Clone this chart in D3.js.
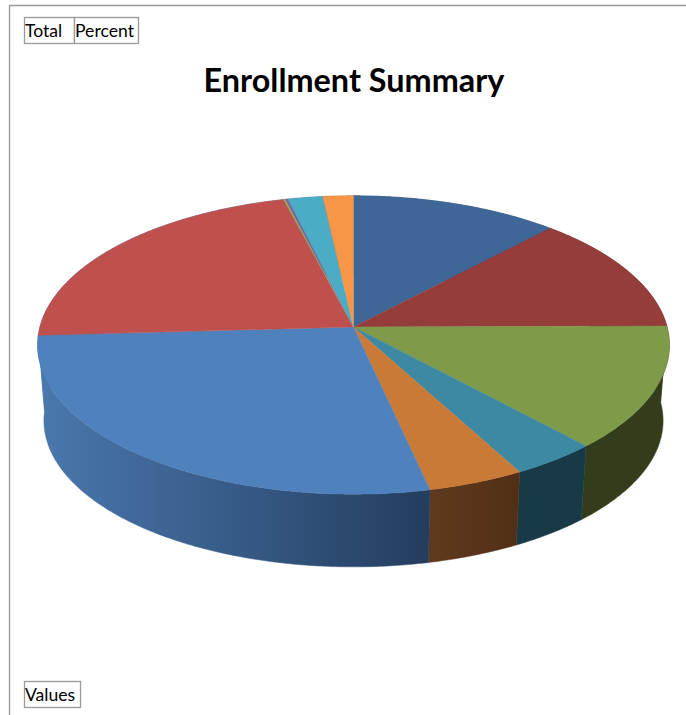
<!DOCTYPE html>
<html>
<head>
<meta charset="utf-8">
<title>Enrollment Summary</title>
<script src="https://cdn.jsdelivr.net/npm/d3@7"></script>
<style>
  html, body { margin: 0; padding: 0; background: #fff; }
  svg { display: block; }
  text { font-family: Lato, "Open Sans", sans-serif; fill: #000; }
</style>
</head>
<body>
<script>
// share of enrollment per slice, clockwise from 12 o'clock
var values = [11.95, 12.95, 13.3, 3.95, 4.4, 27.55, 21.9, 0.1, 0.15, 2.0, 1.75];
var topColors = ["#3e6797", "#953d3b", "#7f9a48", "#3d89a4", "#c97a37", "#4f81bd", "#c0504d", "#9bbb59", "#8064a2", "#4bacc6", "#f79646"];
// the red slice sits behind the blue wall at the far left, so it takes the same colour
var wallLeft = ["#2a4565", "#652927", "#333d1c", "#173a46", "#5f3a1e", "#4a78ae", "#4a78ae", "#697f3c", "#57446e", "#337486", "#a7652f"];
var wallRight = ["#2a4565", "#652927", "#333d1c", "#173a46", "#512f16", "#243d5e", "#4a78ae", "#697f3c", "#57446e", "#337486", "#a7652f"];
var filterFields = ["Total", "Percent"];
var rowField = "Values";
var title = "Enrollment Summary";

var width = 686, height = 715;
var cx = 353.5, cy = 327;
var radiusX = 313.6, radiusY = 147, tilt = 0.1208; // perspective of the disc
var depth = 76, floorScale = 0.98; // lower rim of the wall

var svg = d3.select("body").append("svg")
  .attr("width", width)
  .attr("height", height);

var defs = svg.append("defs");

var pie = d3.pie().sort(null).value(function (d) { return d; });
var slices = pie(values);

// angle on the disc -> point on screen
function project(a, scale, shift) {
  var u = Math.sin(a), v = -Math.cos(a);
  var w = 1 - tilt * v;
  return [cx + scale * radiusX * u / w, cy + shift + scale * radiusY * v / w];
}

function rim(d, scale, shift) {
  var n = Math.max(2, Math.ceil((d.endAngle - d.startAngle) / 0.01));
  return d3.range(n + 1).map(function (i) {
    return project(d.startAngle + (d.endAngle - d.startAngle) * i / n, scale, shift);
  });
}

var line = d3.line();

slices.forEach(function (d, i) {
  var grad = defs.append("linearGradient").attr("id", "wall" + i);
  // the left end of the wall is the end of the slice on the front half
  grad.append("stop").attr("offset", 0).attr("stop-color", wallLeft[i]);
  grad.append("stop").attr("offset", 1).attr("stop-color", wallRight[i]);
});

// walls first, the top faces paint over whatever is at the back
svg.append("g").selectAll("path")
  .data(slices)
  .enter().append("path")
  .attr("fill", function (d, i) { return "url(#wall" + i + ")"; })
  .attr("stroke", function (d, i) { return "url(#wall" + i + ")"; })
  .attr("stroke-width", 0.5)
  .attr("d", function (d) {
    return line(rim(d, 1, 0).concat(rim(d, floorScale, depth).reverse())) + "Z";
  });

svg.append("g").selectAll("path")
  .data(slices)
  .enter().append("path")
  .attr("fill", function (d, i) { return topColors[i]; })
  .attr("stroke", function (d, i) { return topColors[i]; })
  .attr("stroke-width", 0.4)
  .attr("d", function (d) {
    return line([[cx, cy]].concat(rim(d, 1, 0))) + "Z";
  });

// chart frame, open to the right and bottom
svg.append("path")
  .attr("d", "M9.5," + height + "V5.5H" + width)
  .attr("fill", "none")
  .attr("stroke", "#999")
  .attr("stroke-width", 1.3);

svg.append("text")
  .attr("x", 354)
  .attr("y", 92)
  .attr("text-anchor", "middle")
  .attr("font-size", 32.4)
  .attr("font-weight", 700)
  .text(title);

function fieldButton(label, x, y, w) {
  var g = svg.append("g");
  g.append("rect")
    .attr("x", x + 0.5).attr("y", y + 0.5)
    .attr("width", w).attr("height", 26)
    .attr("fill", "#fff")
    .attr("stroke", "#999")
    .attr("stroke-width", 1.3);
  g.append("text")
    .attr("x", x + 1).attr("y", y + 19.5)
    .attr("font-size", 17.6)
    .text(label);
}

fieldButton(filterFields[0], 24, 17, 50);
fieldButton(filterFields[1], 74, 17, 64);
fieldButton(rowField, 24, 681, 56);
</script>
</body>
</html>
